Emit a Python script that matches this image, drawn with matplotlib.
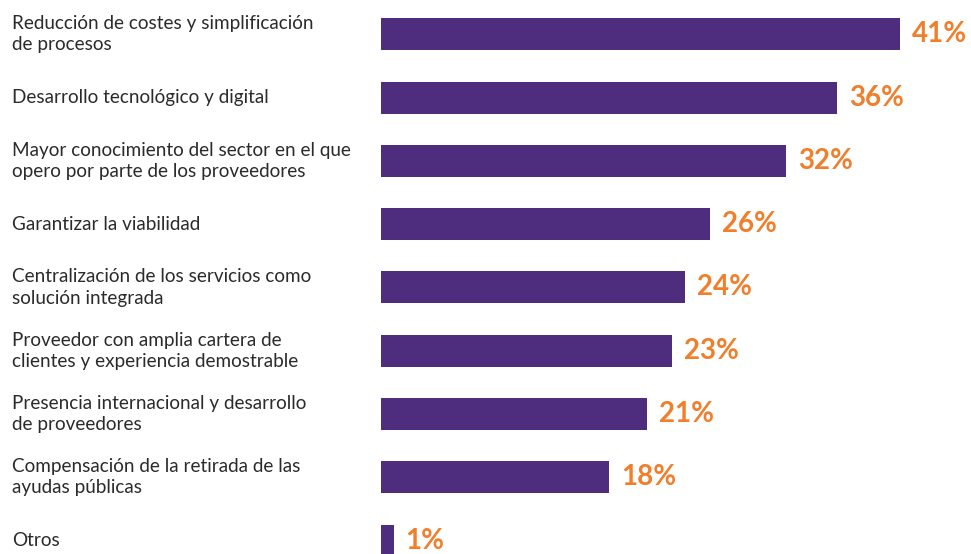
import matplotlib
matplotlib.use("Agg")
import matplotlib.pyplot as plt

categories = [
    "Reducción de costes y simplificación\nde procesos",
    "Desarrollo tecnológico y digital",
    "Mayor conocimiento del sector en el que\nopero por parte de los proveedores",
    "Garantizar la viabilidad",
    "Centralización de los servicios como\nsolución integrada",
    "Proveedor con amplia cartera de\nclientes y experiencia demostrable",
    "Presencia internacional y desarrollo\nde proveedores",
    "Compensación de la retirada de las\nayudas públicas",
    "Otros",
]
values = [41, 36, 32, 26, 24, 23, 21, 18, 1]
value_labels = ["41%", "36%", "32%", "26%", "24%", "23%", "21%", "18%", "1%"]

W, H = 971, 554
fig = plt.figure(figsize=(W / 100, H / 100), dpi=100)
ax = fig.add_axes([381 / W, 0, 1 - 381 / W, 1])

bar_color = "#4E2D7E"
orange = "#F07E2B"
spacing = 63.3
pos = list(range(len(values)))
ax.barh(pos, values, height=32 / spacing, color=bar_color, edgecolor="none")

scale = 519 / 41  # px per unit
ax.set_xlim(0, (W - 381) / scale)
ax.set_ylim((H - 34.3) / spacing, -34.3 / spacing)
ax.axis("off")

for p, v, lab in zip(pos, values, value_labels):
    ax.annotate(lab, (v, p), xytext=(12, 0), textcoords="offset pixels",
                ha="left", va="center", color=orange, fontsize=20,
                fontweight="bold", family=["Lato", "DejaVu Sans"])

for p, c in zip(pos, categories):
    ax.annotate(c, (0, p), xycoords=("figure pixels", "data"),
                xytext=(12, 0), textcoords="offset pixels",
                ha="left", va="center", color="#2b2b2b", fontsize=13.6,
                linespacing=1.3, family=["Lato", "DejaVu Sans"],
                annotation_clip=False)

fig.savefig("out.png", dpi=100)
